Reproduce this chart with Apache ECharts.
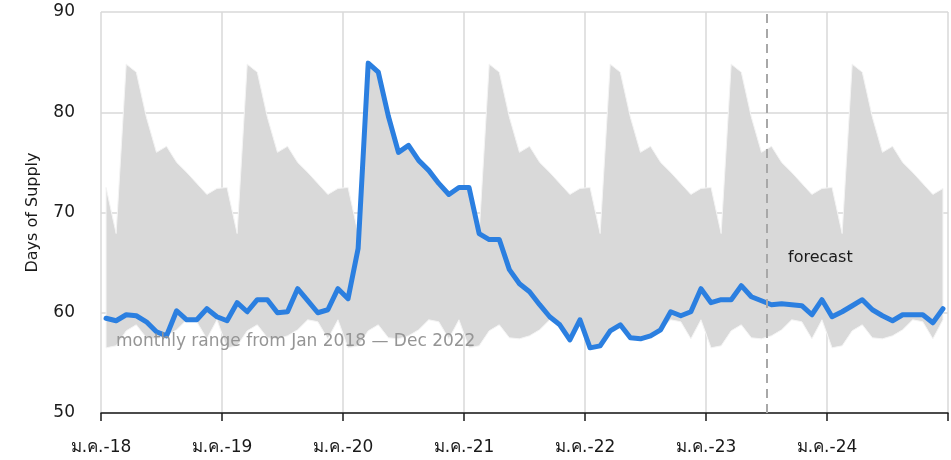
<!DOCTYPE html>
<html>
<head>
<meta charset="utf-8">
<script src="https://cdn.jsdelivr.net/npm/echarts@6/dist/echarts.min.js"></script>
<style>
html,body{margin:0;padding:0;background:#fff;}
#chart{width:951px;height:460px;}
</style>
</head>
<body>
<div id="chart"></div>
<script>
// Tick labels (January of each year)
var xTickLabels = ['ม.ค.-18','ม.ค.-19','ม.ค.-20','ม.ค.-21','ม.ค.-22','ม.ค.-23','ม.ค.-24'];
var yTicks = [50, 60, 70, 80, 90];

// Monthly range (Jan..Dec) from Jan 2018 - Dec 2022, shown for every year
var rangeLow  = [56.5, 56.7, 58.2, 58.8, 57.5, 57.4, 57.7, 58.3, 59.3, 59.1, 57.4, 59.3];
var rangeHigh = [72.5, 67.9, 84.8, 84.0, 79.5, 76.0, 76.6, 75.0, 74.0, 72.9, 71.8, 72.4];
var rangeYears = [2018, 2019, 2020, 2021, 2022, 2023, 2024];

// Days of supply, monthly Jan 2018 .. Dec 2024
var supply2018 = [59.45, 59.2, 59.8, 59.7, 59.1, 58.1, 57.7, 60.2, 59.3, 59.3, 60.4, 59.6];
var supply2019 = [59.2, 61.0, 60.1, 61.3, 61.3, 60.0, 60.1, 62.4, 61.2, 60.0, 60.3, 62.4];
var supply2020 = [61.4, 66.4, 84.9, 84.0, 79.6, 76.0, 76.7, 75.2, 74.2, 72.9, 71.8, 72.5];
var supply2021 = [72.5, 67.9, 67.3, 67.3, 64.3, 62.9, 62.1, 60.8, 59.6, 58.8, 57.3, 59.3];
var supply2022 = [56.5, 56.7, 58.2, 58.8, 57.5, 57.4, 57.7, 58.3, 60.1, 59.7, 60.1, 62.4];
var supply2023 = [61.0, 61.3, 61.3, 62.7, 61.6, 61.2, 60.8, 60.9, 60.8, 60.7, 59.8, 61.3];
var supply2024 = [59.6, 60.1, 60.7, 61.3, 60.3, 59.7, 59.2, 59.8, 59.8, 59.8, 59.0, 60.4];

var forecastStart = 66; // months after Jan 2018 (Jul 2023)

var supply = [].concat(supply2018, supply2019, supply2020, supply2021, supply2022, supply2023, supply2024);
var supplyData = supply.map(function (v, i) { return [i + 0.5, v]; });
var lowPts = [], highPts = [];
rangeYears.forEach(function (y, yi) {
  for (var m = 0; m < 12; m++) {
    var idx = yi * 12 + m;
    lowPts.push([idx + 0.5, rangeLow[m]]);
    highPts.push([idx + 0.5, rangeHigh[m]]);
  }
});

var FONT = "'DejaVu Sans', 'Noto Sans', sans-serif";
var chart = echarts.init(document.getElementById('chart'), null, {renderer: 'canvas'});
chart.setOption({
  animation: false,
  backgroundColor: '#ffffff',
  grid: {left: 101, right: -3, top: 12, bottom: 47},
  xAxis: {
    type: 'value', min: 0, max: 84, interval: 12,
    axisLine: {show: true, lineStyle: {color: '#1a1a1a', width: 1.5}},
    axisTick: {show: true, length: 8, lineStyle: {color: '#1a1a1a', width: 1.5}},
    axisLabel: {
      fontFamily: FONT, fontSize: 17, color: '#1a1a1a', margin: 26,
      formatter: function (v) { var k = Math.round(v / 12); return (v % 12 === 0 && xTickLabels[k]) ? xTickLabels[k] : ''; }
    },
    splitLine: {show: true, lineStyle: {color: '#d9d9d9', width: 1.5}}
  },
  yAxis: {
    type: 'value', min: yTicks[0], max: yTicks[yTicks.length - 1], interval: 10,
    name: 'Days of Supply', nameLocation: 'middle', nameGap: 60,
    nameTextStyle: {fontFamily: FONT, fontSize: 16, color: '#1a1a1a'},
    axisLine: {show: false}, axisTick: {show: false},
    axisLabel: {fontFamily: FONT, fontSize: 17, color: '#1a1a1a', margin: 26},
    splitLine: {show: true, lineStyle: {color: '#d9d9d9', width: 1.5}}
  },
  series: [
    {type: 'custom', silent: true, z: 2,
     data: [[lowPts[0][0], lowPts[0][1]]],
     renderItem: function (params, api) {
       var pts = [];
       for (var i = 0; i < highPts.length; i++) pts.push(api.coord(highPts[i]));
       for (var j = lowPts.length - 1; j >= 0; j--) pts.push(api.coord(lowPts[j]));
       return {type: 'polygon', shape: {points: pts},
               style: {fill: '#d9d9d9', stroke: '#f4f4f4', lineWidth: 1}};
     }},
    {type: 'line', data: supplyData, symbol: 'none', z: 4,
     lineStyle: {width: 5, color: '#2b7fe0', join: 'round', cap: 'round'},
     markLine: {silent: true, symbol: ['none', 'none'], label: {show: false},
       lineStyle: {color: '#a8a8a8', type: [9, 6], width: 2},
       data: [{xAxis: forecastStart}]}}
  ],
  graphic: [
    {type: 'text', left: 116, top: 333, z: 10,
     style: {text: 'monthly range from Jan 2018 \u2014 Dec 2022', fontFamily: FONT, fontSize: 17, fill: '#959595'}},
    {type: 'text', left: 788, top: 250, z: 10,
     style: {text: 'forecast', fontFamily: FONT, fontSize: 16, fill: '#1a1a1a'}}
  ]
});
</script>
</body>
</html>
